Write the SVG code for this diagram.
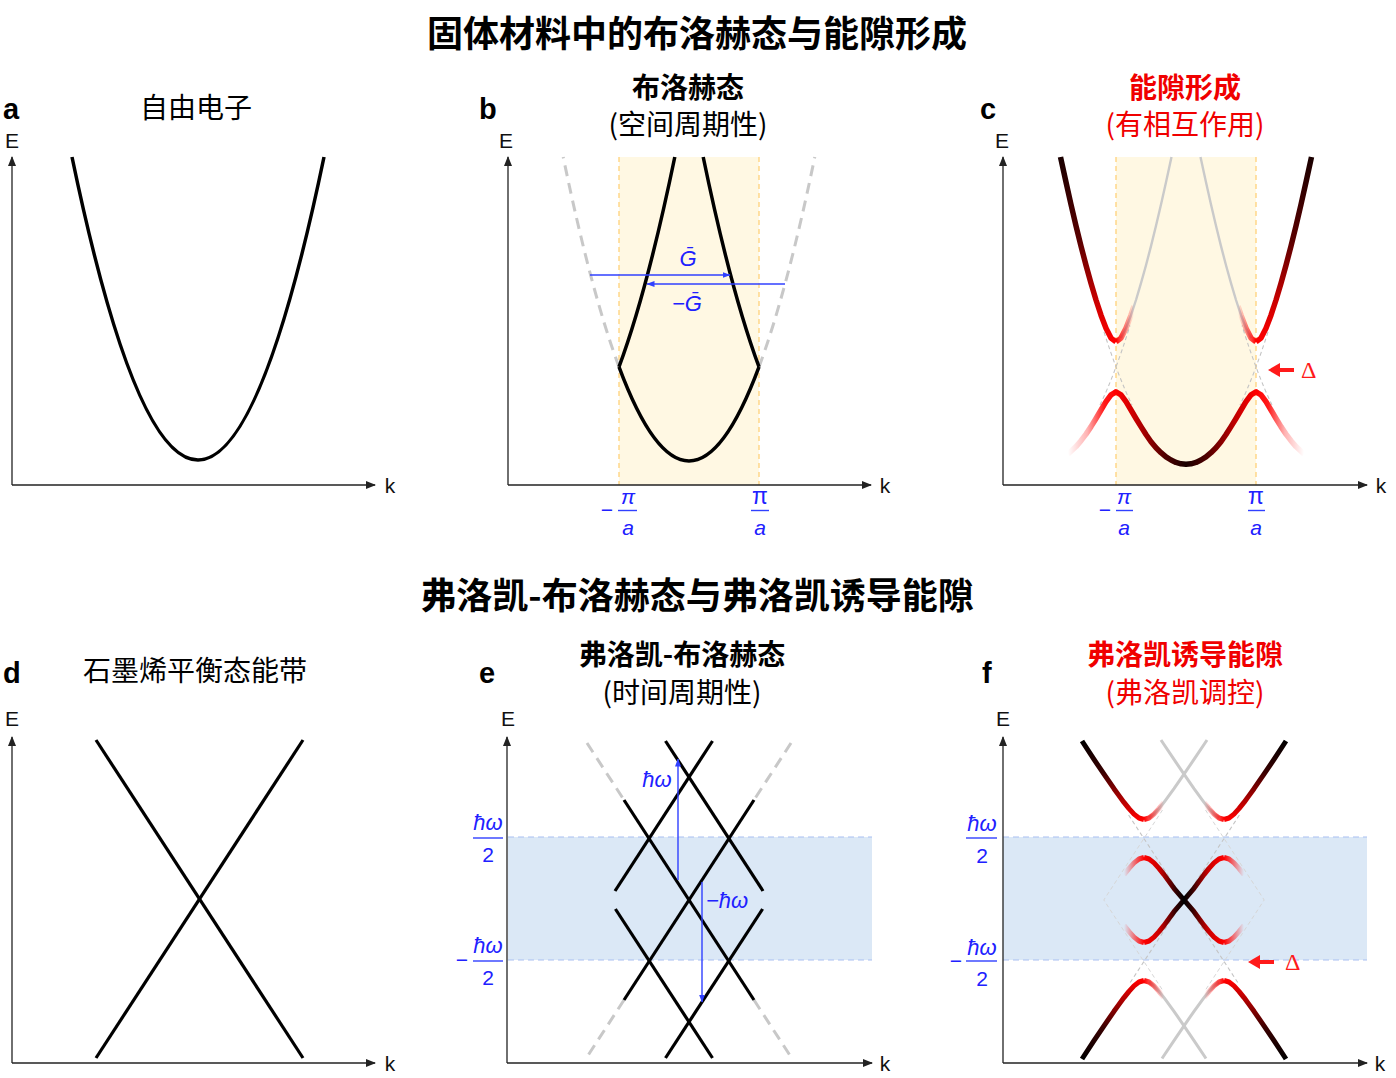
<svg xmlns="http://www.w3.org/2000/svg" width="1396" height="1078" viewBox="0 0 1396 1078">
<defs>
<style>
.cjk{font-family:"Noto Sans CJK SC","Noto Sans CJK TC",sans-serif}
.lat{font-family:"Liberation Sans",Arial,sans-serif}
.title{font-size:36px;font-weight:700;text-anchor:middle;fill:#000}
.ptitle{font-size:28px;font-weight:700;text-anchor:middle;fill:#000}
.psub{font-size:28px;font-weight:400;text-anchor:middle;fill:#000}
.red{fill:#f00000}
.letter{font-size:29px;font-weight:700;fill:#000}
.axlab{font-size:21px;fill:#111;text-anchor:middle}
.axis{stroke:#222;stroke-width:1.3;fill:none}
.math{font-style:italic;font-size:21px;text-anchor:middle;fill:#2020ff}
.bar{stroke:#3040ff;stroke-width:1.4}
.band{fill:none;stroke:#000;stroke-width:3.5;stroke-linejoin:round}
.thin{fill:none;stroke:#000;stroke-width:3.2;stroke-linecap:butt}
.ghost{fill:none;stroke:#c8c8c8;stroke-width:3;stroke-dasharray:11 7}
.zone{stroke:#ffd27a;stroke-width:1.3;stroke-dasharray:5 4}
.bedge{stroke:#a9bff2;stroke-width:1.2;stroke-dasharray:6 4}
.bare{fill:none;stroke:#c4c4c4;stroke-width:1.1;stroke-dasharray:4 3}
.faint{fill:none;stroke:#d6d6d6;stroke-width:1;stroke-dasharray:4 3}
.grayc{fill:none;stroke:#cacaca;stroke-width:2.4;stroke-linejoin:round}
.grayf{fill:none;stroke:#cacaca;stroke-width:3;stroke-linejoin:round}
.hb{fill:none;stroke-width:5.5;stroke-linejoin:round;stroke-linecap:round}
.hf{fill:none;stroke-width:5;stroke-linejoin:round;stroke-linecap:butt}
.barrow{stroke:#3040ff;stroke-width:1.4;fill:none}
.rarrow{stroke:#ff1a1a;stroke-width:4;fill:none}
.delta{font-family:"Liberation Serif","Times New Roman",serif;font-size:24px;fill:#ff1a1a}
</style>
<marker id="ah" viewBox="0 0 10 8" refX="9" refY="4" markerWidth="10" markerHeight="8" markerUnits="userSpaceOnUse" orient="auto"><path d="M0,0 L10,4 L0,8 z" fill="#222"/></marker>
<marker id="ahb" viewBox="0 0 8 6" refX="7.5" refY="3" markerWidth="8" markerHeight="6" markerUnits="userSpaceOnUse" orient="auto"><path d="M0,0 L8,3 L0,6 z" fill="#3040ff"/></marker>
<marker id="ahr" viewBox="0 0 12 14" refX="1" refY="7" markerWidth="12" markerHeight="14" markerUnits="userSpaceOnUse" orient="auto"><path d="M0,0 L12,7 L0,14 z" fill="#ff1a1a"/></marker>

<linearGradient id="cUp" gradientUnits="userSpaceOnUse" x1="0" y1="157" x2="0" y2="342">
<stop offset="0" stop-color="#1a0000"/><stop offset="0.45" stop-color="#5a0000"/><stop offset="0.8" stop-color="#d00000"/><stop offset="1" stop-color="#ff0000"/></linearGradient>
<linearGradient id="cLow" gradientUnits="userSpaceOnUse" x1="1116" y1="0" x2="1256" y2="0">
<stop offset="0" stop-color="#ff0000"/><stop offset="0.15" stop-color="#c00000"/><stop offset="0.35" stop-color="#500000"/><stop offset="0.5" stop-color="#1a0000"/><stop offset="0.65" stop-color="#500000"/><stop offset="0.85" stop-color="#c00000"/><stop offset="1" stop-color="#ff0000"/></linearGradient>
<linearGradient id="cTUL" gradientUnits="userSpaceOnUse" x1="1116" y1="0" x2="1134" y2="0"><stop offset="0" stop-color="#ff0000"/><stop offset="1" stop-color="#ff0000" stop-opacity="0"/></linearGradient>
<linearGradient id="cTUR" gradientUnits="userSpaceOnUse" x1="1256" y1="0" x2="1238" y2="0"><stop offset="0" stop-color="#ff0000"/><stop offset="1" stop-color="#ff0000" stop-opacity="0"/></linearGradient>
<linearGradient id="cTLL" gradientUnits="userSpaceOnUse" x1="1116" y1="0" x2="1068" y2="0"><stop offset="0" stop-color="#ff0000"/><stop offset="0.25" stop-color="#ff0000" stop-opacity="0.9"/><stop offset="0.6" stop-color="#ff0000" stop-opacity="0.3"/><stop offset="1" stop-color="#ff0000" stop-opacity="0"/></linearGradient>
<linearGradient id="cTLR" gradientUnits="userSpaceOnUse" x1="1256" y1="0" x2="1304" y2="0"><stop offset="0" stop-color="#ff0000"/><stop offset="0.25" stop-color="#ff0000" stop-opacity="0.9"/><stop offset="0.6" stop-color="#ff0000" stop-opacity="0.3"/><stop offset="1" stop-color="#ff0000" stop-opacity="0"/></linearGradient>

<linearGradient id="fUp" gradientUnits="userSpaceOnUse" x1="0" y1="741" x2="0" y2="819.5">
<stop offset="0" stop-color="#000"/><stop offset="0.4" stop-color="#3a0000"/><stop offset="0.75" stop-color="#b00000"/><stop offset="1" stop-color="#ff0000"/></linearGradient>
<linearGradient id="fLow" gradientUnits="userSpaceOnUse" x1="0" y1="1059" x2="0" y2="980.5">
<stop offset="0" stop-color="#000"/><stop offset="0.4" stop-color="#3a0000"/><stop offset="0.75" stop-color="#b00000"/><stop offset="1" stop-color="#ff0000"/></linearGradient>
<linearGradient id="fMid" gradientUnits="userSpaceOnUse" x1="1144" y1="0" x2="1224" y2="0">
<stop offset="0" stop-color="#ff0000"/><stop offset="0.2" stop-color="#c80000"/><stop offset="0.4" stop-color="#300000"/><stop offset="0.5" stop-color="#000"/><stop offset="0.6" stop-color="#300000"/><stop offset="0.8" stop-color="#c80000"/><stop offset="1" stop-color="#ff0000"/></linearGradient>
<linearGradient id="fTL" gradientUnits="userSpaceOnUse" x1="1144" y1="0" x2="1124" y2="0"><stop offset="0" stop-color="#ff0000"/><stop offset="1" stop-color="#ff0000" stop-opacity="0"/></linearGradient>
<linearGradient id="fTR" gradientUnits="userSpaceOnUse" x1="1224" y1="0" x2="1244" y2="0"><stop offset="0" stop-color="#ff0000"/><stop offset="1" stop-color="#ff0000" stop-opacity="0"/></linearGradient>
<linearGradient id="fIL" gradientUnits="userSpaceOnUse" x1="1144" y1="0" x2="1164" y2="0"><stop offset="0" stop-color="#ff0000"/><stop offset="1" stop-color="#ff0000" stop-opacity="0"/></linearGradient>
<linearGradient id="fIR" gradientUnits="userSpaceOnUse" x1="1224" y1="0" x2="1204" y2="0"><stop offset="0" stop-color="#ff0000"/><stop offset="1" stop-color="#ff0000" stop-opacity="0"/></linearGradient>
</defs>

<rect x="0" y="0" width="1396" height="1078" fill="#fff"/>

<g id="titles">
<text class="cjk title" x="697" y="47">固体材料中的布洛赫态与能隙形成</text>
<text class="cjk title" x="697" y="609">弗洛凯-布洛赫态与弗洛凯诱导能隙</text>
</g>

<!-- Panel a -->
<g id="panel-a">
<text class="lat letter" x="3" y="119">a</text>
<text class="cjk psub" x="196" y="118">自由电子</text>
<text class="lat axlab" x="12" y="148">E</text>
<text class="lat axlab" x="390" y="493">k</text>
<line class="axis" x1="12" y1="485" x2="12" y2="157" marker-end="url(#ah)"/>
<line class="axis" x1="12" y1="485" x2="375" y2="485" marker-end="url(#ah)"/>
<path class="band" d="M72,157 Q198,763 324,157"/>
</g>

<!-- Panel b -->
<g id="panel-b">
<rect x="619" y="157" width="140" height="328" fill="#fff8e3"/>
<line class="zone" x1="619" y1="157" x2="619" y2="485"/>
<line class="zone" x1="759" y1="157" x2="759" y2="485"/>
<text class="lat letter" x="479" y="119">b</text>
<text class="cjk ptitle" x="688" y="98">布洛赫态</text>
<text class="cjk psub" x="688" y="135">(空间周期性)</text>
<text class="lat axlab" x="506" y="148">E</text>
<text class="lat axlab" x="885" y="493">k</text>
<line class="axis" x1="508" y1="485" x2="508" y2="157" marker-end="url(#ah)"/>
<line class="axis" x1="508" y1="485" x2="871" y2="485" marker-end="url(#ah)"/>
<path class="ghost" d="M619,366.9 Q591.1,291.9 563.2,157"/>
<path class="ghost" d="M759,366.9 Q786.9,291.9 814.8,157"/>
<path class="band" d="M619,366.9 Q689,555.1 759,366.9"/>
<path class="band" d="M619,366.9 Q646.9,291.9 674.8,157"/>
<path class="band" d="M759,366.9 Q731.1,291.9 703.2,157"/>
<text class="lat math" x="607" y="517" style="font-style:normal">−</text>
<text class="lat math" x="628" y="504">π</text>
<line class="bar" x1="618" y1="510.5" x2="637" y2="510.5"/>
<text class="lat math" x="628" y="535">a</text>
<text class="lat math" x="760" y="504" style="font-style:normal;font-size:23px">π</text>
<line class="bar" x1="751" y1="510.5" x2="769" y2="510.5"/>
<text class="lat math" x="760" y="535">a</text>
</g>

<!-- Panel c -->
<g id="panel-c">
<rect x="1116" y="157" width="140" height="328" fill="#fff8e3"/>
<line class="zone" x1="1116" y1="157" x2="1116" y2="485"/>
<line class="zone" x1="1256" y1="157" x2="1256" y2="485"/>
<text class="lat letter" x="980" y="119">c</text>
<text class="cjk ptitle red" x="1185" y="98">能隙形成</text>
<text class="cjk psub red" x="1185" y="135">(有相互作用)</text>
<text class="lat axlab" x="1002" y="148">E</text>
<text class="lat axlab" x="1381" y="493">k</text>
<line class="axis" x1="1003" y1="485" x2="1003" y2="157" marker-end="url(#ah)"/>
<line class="axis" x1="1003" y1="485" x2="1367" y2="485" marker-end="url(#ah)"/>
<path class="bare" d="M1104,331.9 Q1118,376 1132,405"/>
<path class="bare" d="M1100,405 Q1115,373.9 1130,325.5"/>
<path class="bare" d="M1268,331.9 Q1254,376 1240,405"/>
<path class="bare" d="M1272,405 Q1257,373.9 1242,325.5"/>
<path class="grayc" d="M1121,338.1 L1126,328.3 L1131,315.2 L1136,300 L1141,283.2 L1146,265.2 L1151,246.1 L1156,225.8 L1161,204.5 L1166,182.2 L1171.5,157"/>
<path class="grayc" d="M1251,338.1 L1246,328.3 L1241,315.2 L1236,300 L1231,283.2 L1226,265.2 L1221,246.1 L1216,225.8 L1211,204.5 L1206,182.2 L1200.5,157"/>
<path class="hb" stroke="url(#cUp)" style="stroke-linecap:butt" d="M1060.5,157 L1066,182.2 L1071,204.5 L1076,225.8 L1081,246.1 L1086,265.2 L1091,283.2 L1096,300 L1101,315.2 L1106,328.3 L1111,338.1 L1116,341.9"/>
<path class="hb" stroke="url(#cUp)" style="stroke-linecap:butt" d="M1311.5,157 L1306,182.2 L1301,204.5 L1296,225.8 L1291,246.1 L1286,265.2 L1281,283.2 L1276,300 L1271,315.2 L1266,328.3 L1261,338.1 L1256,341.9"/>
<path class="hb" stroke="url(#cTUL)" style="stroke-linecap:butt" d="M1116,341.9 L1121,338.1 L1126,328.3 L1131,315.2 L1134,306"/>
<path class="hb" stroke="url(#cTUR)" style="stroke-linecap:butt" d="M1256,341.9 L1251,338.1 L1246,328.3 L1241,315.2 L1238,306"/>
<path class="hb" stroke="url(#cTLL)" style="stroke-linecap:butt" d="M1116,391.9 L1111,394.8 L1106,401.7 L1101,410 L1096,418.5 L1091,426.6 L1086,434.1 L1081,440.7 L1076,446.6 L1068,454"/>
<path class="hb" stroke="url(#cTLR)" style="stroke-linecap:butt" d="M1256,391.9 L1261,394.8 L1266,401.7 L1271,410 L1276,418.5 L1281,426.6 L1286,434.1 L1291,440.7 L1296,446.6 L1304,454"/>
<path class="hb" stroke="url(#cLow)" d="M1116,391.9 L1121,394.8 L1126,401.7 L1131,410 L1136,418.5 L1141,426.6 L1146,434.5 L1151,441.7 L1156,447.8 L1161,452.7 L1166,456.9 L1171,460 L1176,462.4 L1181,463.8 L1186,464.2 L1191,463.8 L1196,462.4 L1201,460 L1206,456.9 L1211,452.7 L1216,447.8 L1221,441.7 L1226,434.5 L1231,426.6 L1236,418.5 L1241,410 L1246,401.7 L1251,394.8 L1256,391.9"/>
<text class="lat math" x="1105" y="517" style="font-style:normal">−</text>
<text class="lat math" x="1124" y="504">π</text>
<line class="bar" x1="1116" y1="510.5" x2="1133" y2="510.5"/>
<text class="lat math" x="1124" y="535">a</text>
<text class="lat math" x="1256" y="504" style="font-style:normal;font-size:23px">π</text>
<line class="bar" x1="1248" y1="510.5" x2="1265" y2="510.5"/>
<text class="lat math" x="1256" y="535">a</text>
</g>

<!-- Panel d -->
<g id="panel-d">
<text class="lat letter" x="3" y="683">d</text>
<text class="cjk psub" x="195" y="681">石墨烯平衡态能带</text>
<text class="lat axlab" x="12" y="726">E</text>
<text class="lat axlab" x="390" y="1071">k</text>
<line class="axis" x1="12" y1="1063" x2="12" y2="737" marker-end="url(#ah)"/>
<line class="axis" x1="12" y1="1063" x2="375" y2="1063" marker-end="url(#ah)"/>
<line class="thin" x1="96" y1="740" x2="303" y2="1058"/>
<line class="thin" x1="96" y1="1058" x2="303" y2="740"/>
</g>

<!-- Panel e -->
<g id="panel-e">
<rect x="508" y="837" width="364" height="123" fill="#dbe8f6"/>
<line class="bedge" x1="508" y1="837" x2="872" y2="837"/>
<line class="bedge" x1="508" y1="960" x2="872" y2="960"/>
<text class="lat letter" x="479" y="683">e</text>
<text class="cjk ptitle" x="682" y="665">弗洛凯-布洛赫态</text>
<text class="cjk psub" x="682" y="703">(时间周期性)</text>
<text class="lat axlab" x="508" y="726">E</text>
<text class="lat axlab" x="885" y="1071">k</text>
<line class="axis" x1="507" y1="1063" x2="507" y2="737" marker-end="url(#ah)"/>
<line class="axis" x1="507" y1="1063" x2="872" y2="1063" marker-end="url(#ah)"/>
<path class="ghost" d="M587,743 L624,800 M791,743 L754,800 M624,1000 L587,1057 M754,1000 L791,1057"/>
<line class="thin" x1="665.5" y1="741" x2="763" y2="891"/>
<line class="thin" x1="712.5" y1="741" x2="615" y2="891"/>
<line class="thin" x1="624" y1="800" x2="754" y2="1000"/>
<line class="thin" x1="754" y1="800" x2="624" y2="1000"/>
<line class="thin" x1="615.4" y1="909" x2="712.5" y2="1058"/>
<line class="thin" x1="762.6" y1="909" x2="665.5" y2="1058"/>
<text class="lat math" x="488" y="830" style="font-size:22px">ħω</text>
<line class="bar" x1="473" y1="838" x2="503" y2="838"/>
<text class="lat math" x="488" y="862" style="font-style:normal">2</text>
<text class="lat math" x="462" y="967" style="font-style:normal">−</text>
<text class="lat math" x="488" y="953" style="font-size:22px">ħω</text>
<line class="bar" x1="473" y1="961" x2="503" y2="961"/>
<text class="lat math" x="488" y="985" style="font-style:normal">2</text>
</g>

<!-- Panel f -->
<g id="panel-f">
<rect x="1003" y="837" width="364" height="123" fill="#dbe8f6"/>
<line class="bedge" x1="1003" y1="837" x2="1367" y2="837"/>
<line class="bedge" x1="1003" y1="960" x2="1367" y2="960"/>
<text class="lat letter" x="982" y="683">f</text>
<text class="cjk ptitle red" x="1185" y="665">弗洛凯诱导能隙</text>
<text class="cjk psub red" x="1185" y="703">(弗洛凯调控)</text>
<text class="lat axlab" x="1003" y="726">E</text>
<text class="lat axlab" x="1380" y="1071">k</text>
<line class="axis" x1="1003" y1="1063" x2="1003" y2="737" marker-end="url(#ah)"/>
<line class="axis" x1="1003" y1="1063" x2="1367" y2="1063" marker-end="url(#ah)"/>
<path class="bare" d="M1128.6,815 L1239.4,985 M1239.4,815 L1128.6,985"/>
<path class="faint" d="M1162.5,810 L1103.8,900 L1162.5,990 M1205.5,810 L1264.2,900 L1205.5,990"/>
<path class="grayf" d="M1149,818 L1154,814.1 L1159,808.65 L1164,802.4 L1174,788.7 L1184,774.2 L1194,759.4 L1204,744.5 L1207,740"/>
<path class="grayf" d="M1219,818 L1214,814.1 L1209,808.65 L1204,802.4 L1194,788.7 L1184,774.2 L1174,759.4 L1164,744.5 L1161,740"/>
<path class="grayf" d="M1149,982 L1154,985.9 L1159,991.35 L1164,997.6 L1174,1011.3 L1184,1025.8 L1194,1040.6 L1204,1055.5 L1206,1058.5"/>
<path class="grayf" d="M1219,982 L1214,985.9 L1209,991.35 L1204,997.6 L1194,1011.3 L1184,1025.8 L1174,1040.6 L1164,1055.5 L1162,1058.5"/>
<path class="hf" stroke="url(#fUp)" d="M1082,741 L1094,759.4 L1104,774.2 L1114,788.7 L1119,795.6 L1124,802.4 L1129,808.65 L1134,814.1 L1139,818 L1144,819.5"/>
<path class="hf" stroke="url(#fUp)" d="M1286,741 L1274,759.4 L1264,774.2 L1254,788.7 L1249,795.6 L1244,802.4 L1239,808.65 L1234,814.1 L1229,818 L1224,819.5"/>
<path class="hf" stroke="url(#fLow)" d="M1082,1059 L1094,1040.6 L1104,1025.8 L1114,1011.3 L1119,1004.4 L1124,997.6 L1129,991.35 L1134,985.9 L1139,982 L1144,980.5"/>
<path class="hf" stroke="url(#fLow)" d="M1286,1059 L1274,1040.6 L1264,1025.8 L1254,1011.3 L1249,1004.4 L1244,997.6 L1239,991.35 L1234,985.9 L1229,982 L1224,980.5"/>
<path class="hf" stroke="url(#fIL)" d="M1144,819.5 L1149,818 L1154,814.1 L1159,808.65 L1164,802.4"/>
<path class="hf" stroke="url(#fIR)" d="M1224,819.5 L1219,818 L1214,814.1 L1209,808.65 L1204,802.4"/>
<path class="hf" stroke="url(#fIL)" d="M1144,980.5 L1149,982 L1154,985.9 L1159,991.35 L1164,997.6"/>
<path class="hf" stroke="url(#fIR)" d="M1224,980.5 L1219,982 L1214,985.9 L1209,991.35 L1204,997.6"/>
<path class="hf" stroke="url(#fTL)" d="M1144,857.5 L1139,859 L1134,862.9 L1129,868.35 L1124,874.6"/>
<path class="hf" stroke="url(#fTL)" d="M1144,942.5 L1139,941 L1134,937.1 L1129,931.65 L1124,925.4"/>
<path class="hf" stroke="url(#fTR)" d="M1224,857.5 L1229,859 L1234,862.9 L1239,868.35 L1244,874.6"/>
<path class="hf" stroke="url(#fTR)" d="M1224,942.5 L1229,941 L1234,937.1 L1239,931.65 L1244,925.4"/>
<path class="hf" stroke="url(#fMid)" d="M1144,857.5 L1149,859 L1154,862.9 L1159,868.35 L1164,874.6 L1174,888.3 L1194,911.7 L1204,925.4 L1209,931.65 L1214,937.1 L1219,941 L1224,942.5"/>
<path class="hf" stroke="url(#fMid)" d="M1224,857.5 L1219,859 L1214,862.9 L1209,868.35 L1204,874.6 L1194,888.3 L1174,911.7 L1164,925.4 L1159,931.65 L1154,937.1 L1149,941 L1144,942.5"/>
<text class="lat math" x="982" y="831" style="font-size:22px">ħω</text>
<line class="bar" x1="966" y1="838" x2="997" y2="838"/>
<text class="lat math" x="982" y="863" style="font-style:normal">2</text>
<text class="lat math" x="956" y="968" style="font-style:normal">−</text>
<text class="lat math" x="982" y="955" style="font-size:22px">ħω</text>
<line class="bar" x1="966" y1="961" x2="997" y2="961"/>
<text class="lat math" x="982" y="986" style="font-style:normal">2</text>
</g>

<!-- Annotation arrows -->
<g id="connectors">
<line class="barrow" x1="590" y1="275" x2="730" y2="275" marker-end="url(#ahb)"/>
<line class="barrow" x1="785" y1="284" x2="647" y2="284" marker-end="url(#ahb)"/>
<text class="lat math" x="688" y="266" style="font-size:22px">Ḡ</text>
<text class="lat math" x="687" y="311" style="font-size:22px">−Ḡ</text>
<line class="barrow" x1="678" y1="880" x2="678" y2="759" marker-end="url(#ahb)"/>
<line class="barrow" x1="702" y1="882" x2="702" y2="1002" marker-end="url(#ahb)"/>
<text class="lat math" x="657" y="787" style="font-size:22px">ħω</text>
<text class="lat math" x="706" y="908" style="font-size:22px;text-anchor:start">−ħω</text>
<line class="rarrow" x1="1294" y1="370" x2="1279" y2="370" marker-end="url(#ahr)"/>
<text class="delta" x="1301" y="378">Δ</text>
<line class="rarrow" x1="1274" y1="962" x2="1259" y2="962" marker-end="url(#ahr)"/>
<text class="delta" x="1285" y="970">Δ</text>
</g>
</svg>
